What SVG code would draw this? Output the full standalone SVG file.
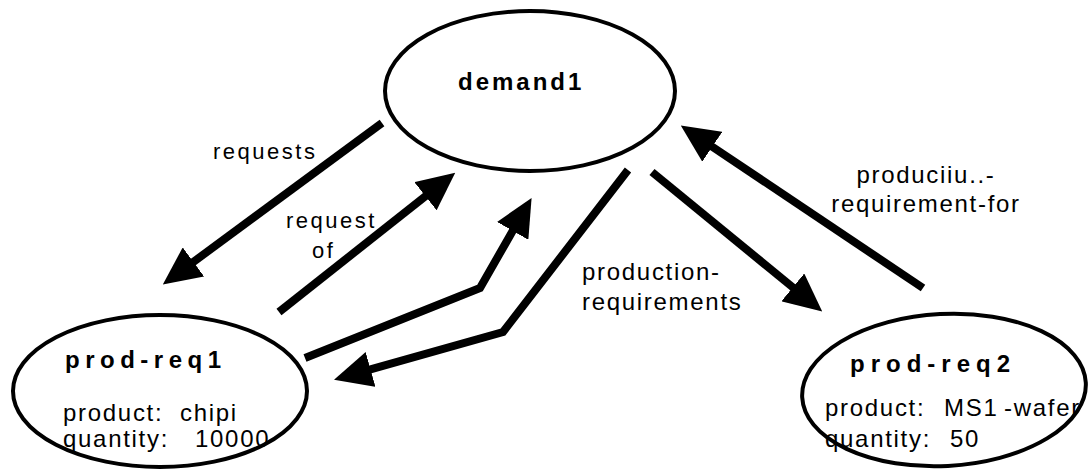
<svg xmlns="http://www.w3.org/2000/svg" width="1089" height="473" viewBox="0 0 1089 473">
  <style>
    .node { fill: none; stroke: #000; stroke-width: 4; }
    .title { font-family: "Liberation Sans", Arial, sans-serif; font-weight: bold; fill: #000; }
    .attr { font-family: "Liberation Sans", Arial, sans-serif; font-size: 24px; letter-spacing: 1.7px; fill: #000; }
    .lbl { font-family: "Liberation Sans", Arial, sans-serif; font-size: 24px; letter-spacing: 1.7px; fill: #000; }
    .lbl2 { font-family: "Liberation Sans", Arial, sans-serif; font-size: 22px; letter-spacing: 2.5px; fill: #000; }
    .edge { fill: none; stroke: #000; stroke-width: 8; stroke-linejoin: miter; stroke-linecap: butt; }
  </style>
  <defs>
    <!-- solid triangular arrowhead, base sits on the line end -->
    <marker id="head" viewBox="0 0 38 36" refX="1" refY="18" markerWidth="38" markerHeight="36" markerUnits="userSpaceOnUse" orient="auto">
      <path d="M0,0 L38,18 L0,36 Z" fill="#000"/>
    </marker>
  </defs>

  <rect width="1089" height="473" fill="#fff"/>

  <!-- connectors -->
  <g id="connectors">
    <line class="edge" x1="382" y1="123" x2="192.6" y2="262.5" marker-end="url(#head)"/>
    <line class="edge" x1="279" y1="312" x2="426.2" y2="195.6" marker-end="url(#head)"/>
    <polyline class="edge" points="305,358 480,288 513.2,230" marker-end="url(#head)"/>
    <polyline class="edge" points="628,170 503,332 369.6,369.7" marker-end="url(#head)"/>
    <line class="edge" x1="652" y1="172" x2="793.6" y2="288" marker-end="url(#head)"/>
    <line class="edge" x1="923" y1="288" x2="711.5" y2="146.2" marker-end="url(#head)"/>

    <text class="lbl2" x="213" y="159">requests</text>
    <text class="lbl2" x="286" y="228">request</text>
    <text class="lbl2" x="312" y="258">of</text>
    <text class="lbl" x="582" y="280">production-</text>
    <text class="lbl" x="582" y="310">requirements</text>
    <text class="lbl" x="926" y="183" text-anchor="middle">produciiu..-</text>
    <text class="lbl" x="926" y="212" text-anchor="middle">requirement-for</text>
  </g>

  <!-- nodes -->
  <g id="demand1">
    <ellipse class="node" cx="530" cy="91" rx="145" ry="80"/>
    <text class="title" x="458" y="90" font-size="24" letter-spacing="3">demand1</text>
  </g>

  <g id="prod-req1">
    <text class="title" x="65" y="368" font-size="24" letter-spacing="5.5">prod-req1</text>
    <text class="attr" x="63" y="421">product:</text>
    <text class="attr" x="180" y="421">chipi</text>
    <text class="attr" x="63" y="447">quantity:</text>
    <text class="attr" x="195" y="447">10000</text>
    <ellipse class="node" cx="160" cy="391" rx="147" ry="76"/>
  </g>

  <g id="prod-req2">
    <text class="title" x="850" y="372" font-size="24" letter-spacing="6">prod-req2</text>
    <text class="attr" x="825" y="416">product:</text>
    <text class="attr" x="944" y="416">MS1</text>
    <text class="attr" x="1004" y="416">-wafer</text>
    <text class="attr" x="825" y="447">quantity:</text>
    <text class="attr" x="950" y="447">50</text>
    <ellipse class="node" cx="944" cy="390" rx="142" ry="76" transform="rotate(-3 944 390)"/>
  </g>
</svg>
